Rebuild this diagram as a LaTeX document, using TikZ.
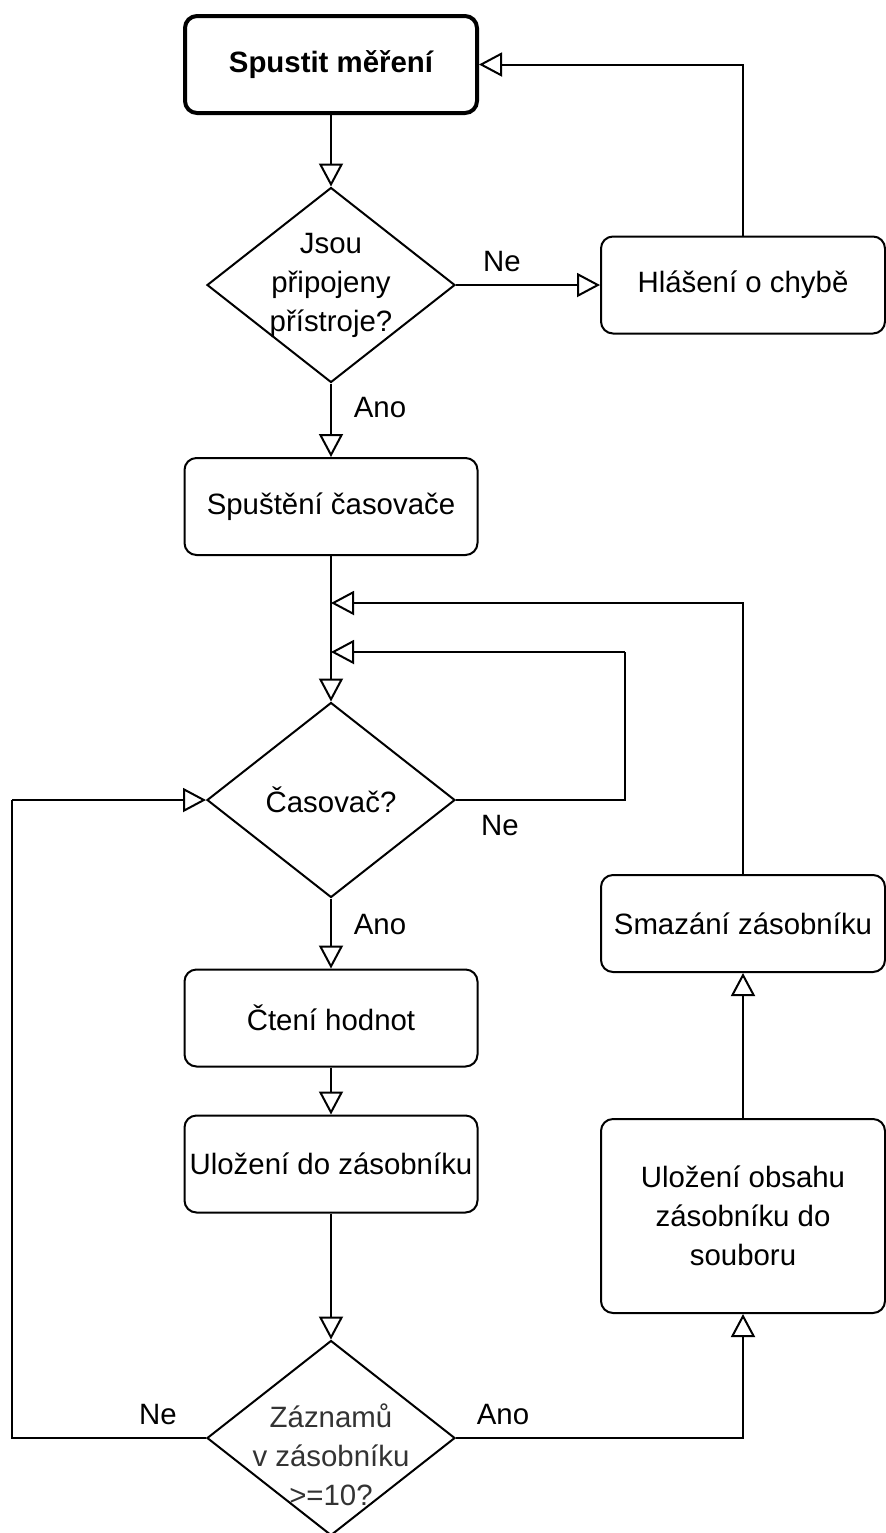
\documentclass[tikz,border=0pt]{standalone}
\usepackage{fontspec}
\setmainfont{Liberation Sans}
\usetikzlibrary{shapes.geometric,arrows.meta}
\definecolor{txtgray}{HTML}{333333}
\tikzset{
  box/.style={draw, line width=1pt, rounded corners=6pt, minimum width=146.5pt, minimum height=48.5pt, align=center, inner sep=2pt, font=\fontsize{14.7}{19.5}\selectfont},
  rbox/.style={box, minimum width=142pt},
  startbox/.style={box, line width=2pt, minimum width=146pt, minimum height=48.5pt, font=\fontsize{14.7}{19.5}\selectfont\bfseries},
  dia/.style={draw, line width=1pt, shape=diamond, minimum width=124pt, minimum height=97.5pt, inner sep=0pt},
  diatext/.style={align=center, font=\fontsize{14.7}{19.5}\selectfont, inner sep=0pt},
  lbl/.style={font=\fontsize{14.7}{19.5}\selectfont, inner sep=0pt},
  arr/.style={line width=1pt, -{Triangle[open, length=11.5pt, width=12pt, line width=1pt]}}
}
\begin{document}
\begin{tikzpicture}[x=0.5pt, y=-0.5pt]
\useasboundingbox (0,0) rectangle (886,1533);
% nodes
\node[startbox] (start) at (331,64.5) {Spustit měření};
\node[dia] (d1) at (331,285) {};
\node[diatext] at (d1) {Jsou\\připojeny\\přístroje?};
\node[rbox] (err) at (743,285) {Hlášení o chybě};
\node[box] (spust) at (331,506.5) {Spuštění časovače};
\node[dia] (d2) at (331,800) {};
\node[diatext] at (d2) {Časovač?};
\node[rbox] (smaz) at (743,923.5) {Smazání zásobníku};
\node[box] (cteni) at (331,1018) {Čtení hodnot};
\node[box] (ulo) at (331,1164) {Uložení do zásobníku};
\node[rbox, minimum height=97pt] (obsah) at (743,1216) {Uložení obsahu\\zásobníku do\\souboru};
\node[dia] (d3) at (331,1438) {};
\node[diatext, text=txtgray] at (331,1455) {Záznamů\\v zásobníku\\>=10?};
% helper coordinates
\coordinate (m1) at (331,603);
\coordinate (m2) at (331,652);
\coordinate (n2) at (625,652);
\coordinate (w1) at (12,800);
% connectors
\draw[arr] (start) -- (d1);
\draw[arr] (d1.east) -- (err.west);
\draw[arr] (err.north) |- (start.east);
\draw[arr] (d1.south) -- (spust.north);
\draw[arr] (spust.south) -- (d2.north);
\draw[line width=1pt] (d2.east) -| (n2);
\draw[arr] (n2) -- (m2);
\draw[arr] (smaz.north) |- (m1);
\draw[arr] (d2.south) -- (cteni.north);
\draw[arr] (cteni) -- (ulo);
\draw[arr] (ulo.south) -- (d3.north);
\draw[line width=1pt] (d3.west) -| (w1);
\draw[arr] (w1) -- (d2.west);
\draw[arr] (d3.east) -| (obsah.south);
\draw[arr] (obsah) -- (smaz);
% labels
\node[lbl] at (502,262) {Ne};
\node[lbl] at (380,408) {Ano};
\node[lbl] at (500,826) {Ne};
\node[lbl] at (380,925) {Ano};
\node[lbl] at (158,1415) {Ne};
\node[lbl] at (503,1415) {Ano};
\end{tikzpicture}
\end{document}
